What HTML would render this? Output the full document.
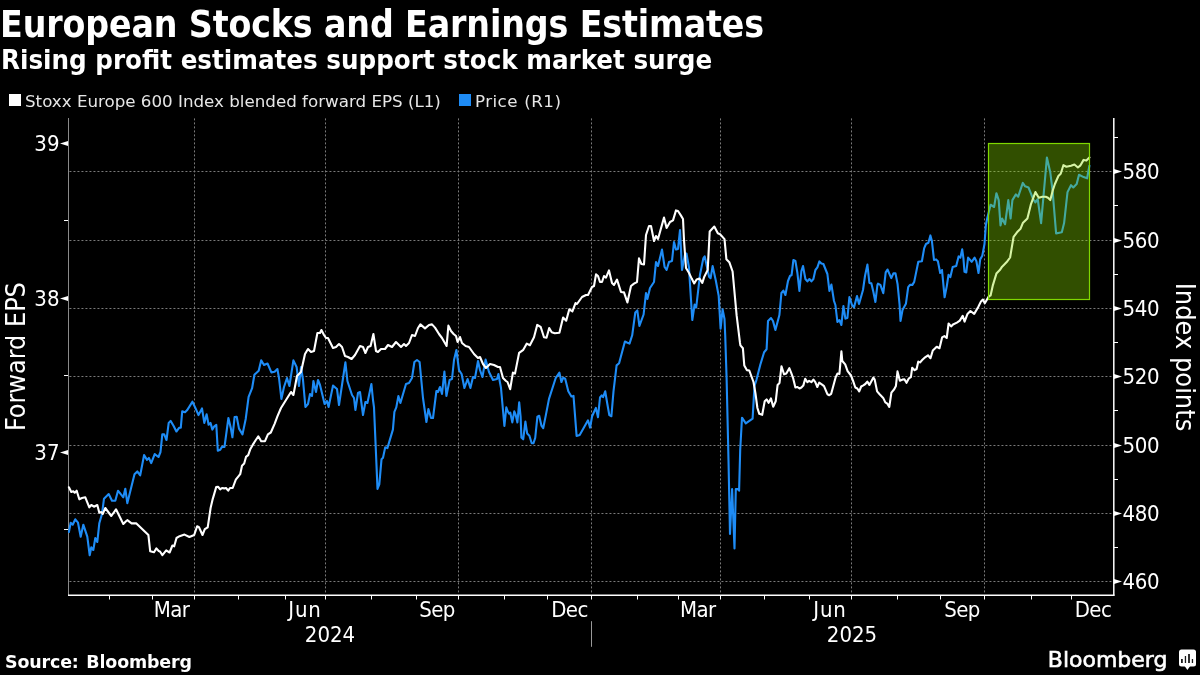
<!DOCTYPE html>
<html><head><meta charset="utf-8"><title>European Stocks and Earnings Estimates</title>
<style>
html,body{margin:0;padding:0;background:#000;width:1200px;height:675px;overflow:hidden}
svg{display:block;will-change:transform}
.t{font-family:"DejaVu Sans Condensed","DejaVu Sans",sans-serif;font-weight:bold;fill:#fff}
.r{font-family:"DejaVu Sans Condensed","DejaVu Sans",sans-serif;fill:#fff}
.lg{font-family:"DejaVu Sans","Liberation Sans",sans-serif;fill:#e6e6e6}
</style></head>
<body>
<svg width="1200" height="675" viewBox="0 0 1200 675">
<rect width="1200" height="675" fill="#000"/>
<!-- titles -->
<text class="t" x="0" y="37" font-size="37" letter-spacing="-0.12">European Stocks and Earnings Estimates</text>
<text class="t" x="1" y="68.6" font-size="27.4">Rising profit estimates support stock market surge</text>
<!-- legend -->
<rect x="9" y="94" width="12" height="12" fill="#fff"/>
<text class="lg" x="25" y="106.8" font-size="16.7">Stoxx Europe 600 Index blended forward EPS (L1)</text>
<rect x="459" y="94" width="12" height="12" fill="#1e8cf6"/>
<text class="lg" x="475" y="106.8" font-size="16.7" letter-spacing="0.45" word-spacing="0.6">Price (R1)</text>

<!-- gridlines horizontal -->
<g stroke="#7a7a7a" stroke-width="1" stroke-dasharray="2 2">
<line x1="69.45" y1="171.5" x2="1113" y2="171.5"/>
<line x1="69.45" y1="240.5" x2="1113" y2="240.5"/>
<line x1="69.45" y1="308.5" x2="1113" y2="308.5"/>
<line x1="69.45" y1="376.5" x2="1113" y2="376.5"/>
<line x1="69.45" y1="445.5" x2="1113" y2="445.5"/>
<line x1="69.45" y1="513.5" x2="1113" y2="513.5"/>
<line x1="69.45" y1="581.5" x2="1113" y2="581.5"/>
</g>
<g stroke="#7a7a7a" stroke-width="1" stroke-dasharray="2 2">
<line x1="194.5" y1="118.4" x2="194.5" y2="594"/>
<line x1="325.5" y1="118.4" x2="325.5" y2="594"/>
<line x1="458.5" y1="118.4" x2="458.5" y2="594"/>
<line x1="591.5" y1="118.4" x2="591.5" y2="594"/>
<line x1="720.5" y1="118.4" x2="720.5" y2="594"/>
<line x1="851.5" y1="118.4" x2="851.5" y2="594"/>
<line x1="984.5" y1="118.4" x2="984.5" y2="594"/>
</g>

<!-- axes -->
<line x1="68.5" y1="118" x2="68.5" y2="595" stroke="#8a8a8a" stroke-width="1"/>
<line x1="68" y1="595.3" x2="1114.5" y2="595.3" stroke="#fff" stroke-width="1.5"/>
<line x1="1113.8" y1="118" x2="1113.8" y2="595.7" stroke="#fff" stroke-width="1.5"/>

<!-- DATA -->
<g id="data" fill="none" stroke-linejoin="round" stroke-linecap="round">
<polyline points="68.9,532 70.7,522.7 72.7,524.7 75.3,519.3 78,522.7 80.7,536.7 83.3,524.7 87.3,536.7 89.7,555.3 91.3,547.3 93.3,550 95.3,538 97.3,542 99.3,523.3 102,514 104,498.7 108.7,494 112,500.7 115.3,500.7 118,490.7 123.3,497.3 125.3,488.7 127.3,503.2 134.5,474.3 137.3,471.4 140.2,475.3 144.1,455 147,459.9 148.9,457.9 151.2,463.1 154.7,454.1 158.5,457 160.5,452 162.3,434.4 164.2,434.4 166.5,440 168.7,422.9 170.6,420.9 173.5,425.7 176.4,431.5 179.3,427.7 180.8,427.7 182.2,411.3 185,412.3 187,410.3 188.9,407.4 192.4,401.7 195.6,408.4 198.5,415.1 202,408.4 204.3,422.9 206.6,414.2 208.6,424.8 210.5,422.9 212.4,429.6 214.3,426.3 216.3,424.8 217.8,450.8 220.1,449.8 222,446.9 224.5,446.9 228.4,418 230.9,428.6 232.4,437.3 234.6,417.1 236.7,416.7 239,428.6 242.5,434.4 245.7,419 248.6,396.8 252.1,388.2 254.4,374.7 258.7,370.8 261.2,360.2 264,365 267.5,363.5 271.4,372.4 274.6,371.8 277.4,369 279,378 281.4,399 284,387 287,378 289.4,386 293.4,360.4 296.6,367 299,386 301,367 303,380 305.4,407 308,404 310,394 312,396 313.4,381 316,392 318,380 320,385 324.6,404 327,401 328.6,407 333,385.6 337,389 339,405 342,385 345.4,362.4 347.4,381 352,395 354,398 355.4,410 358,393 360,392 363,415 365.4,402 367.4,403 371.4,384 373,400 374,407.4 375.6,444.4 377.5,488.9 379.3,484.4 381.5,459.3 383,457.8 385.2,447.4 387.4,448.1 391.1,435.6 392.9,429.6 394.4,411.9 396.3,407.4 398.4,396 400.4,403 406,384 409,383 412,378 414.4,362 417,360 419.6,362 423,398 426.4,422 428.4,409 431,418 433,418 436.4,391 438,392 440,387 442,394 444.4,371.6 446.4,396 449.6,380 452,379 454,360 456.4,350 459,370 461.6,374 464.4,388 467.6,379 470.4,388 473,377 475,378 478,361 480,370 482.4,377 485.6,359.6 489,372 493,380 497,379 498.4,374 501,388 504.4,426 506.3,407.3 507.7,411.3 509,413.6 510.3,412.7 512.3,422.4 514.3,411.3 515.7,414.9 517.4,422.4 519.2,402.4 520.6,416.7 521.4,437.6 523.2,439.3 525.4,421.6 527.2,433.6 529.4,435.8 531.7,443.3 533.4,443.3 535.2,438 537.4,416.7 539.2,415.8 541.4,425.6 543.2,428.2 545.9,414.9 549,398.9 555.8,377.8 559.4,372.6 561.4,382 563.1,377.8 565.2,378.8 568.3,391.3 571.4,396.5 573.5,395.9 576.6,435.9 579.7,434.9 588,420.3 590.1,427.6 592.1,416.2 595.9,407.9 598,417.2 600,397.5 601.7,395.4 603.1,397.1 605.2,391.3 607.3,403.7 609.3,415.1 611.4,416.2 613.5,391.3 616.6,365.4 619.1,363.3 624.9,341.5 627,342.5 629.5,343.6 632.2,335.3 635.3,312.4 637.3,310.4 639.4,325.9 643.6,314.5 646,293 647.4,299 650,288 654,282 656,262 658,266 662,249.6 664.6,267 666.6,270 669,262 672,261 674,242 676,249.6 678,249 680,230 682,270 685,254 686.5,253.5 688.9,267 692.3,320 694.6,304.6 696.2,307.5 700,274.7 703.3,258.4 704.7,256.4 707.2,268 709.1,276.7 710.6,278.2 712.6,266.1 715.8,280.5 718.7,295.9 720.6,328.7 722.6,309.4 724.5,319 725.2,335 726.6,378 728.5,460 730,533.9 732.1,489.1 734.5,548.5 735.8,489.1 737.8,489.1 739.1,490.7 740.2,450 742,417.7 745.8,423.4 752.6,418.6 754.5,385.9 756.4,380.1 760.3,364.7 764.1,352.2 766.6,349.3 768,321 771,318 773,321 775.4,330 779.4,315 781.4,293 783.4,290.6 785.4,295 788,281 790,276 791.6,275 793.4,260 795.4,261 797.4,273 799.4,291 801.4,271 803,266 805.4,279 807.4,281.4 809.4,279 811.4,281.4 813.4,279 815.4,270 817.4,267.4 819.4,261.4 821.4,263.4 823.4,264 827.4,274 829.4,291 831.4,284.6 834,301 835.4,305 837.4,322 839.4,320 841.4,325 843.4,306 845.4,318.6 847.4,318 849.4,297 852,305 854,307.4 857,296 859,304 863,290 865,276 867.4,264.6 869.4,283 871.4,283.4 873.4,292 875.4,302 877.4,285 878,283.7 880.4,284.9 883.3,293.2 885.7,272.4 887.5,269.5 889.3,273.6 891.3,278.1 893.4,273.4 895.5,273.4 897.6,284.3 899.6,305 900.5,321 902.5,310 905.9,303.8 908.2,287.2 910,284.9 912.4,284.9 914.2,281.9 918.3,261.8 921.9,261.2 924.2,248.1 926,244 928.4,242.8 930.4,235.4 931.9,241 934,260 936.1,259.4 937.9,261.2 940.2,273 942,270 944.6,297.3 946.8,286.1 948.5,274.8 950.3,277.2 952.7,267.1 956.2,265.9 958.6,256.4 960.4,257.6 962.2,249.3 963.4,258.2 964.5,271.8 966.3,272.4 968.1,257.6 971.7,261.8 974.6,257.6 976.4,261.2 978.5,273 980.2,259.4 982.3,255.8 984.5,244 985.9,225 987.2,218.5 990.6,204.7 994.1,207 996.4,193.2 998.7,200.1 1000.5,225.4 1002.1,218.5 1005.1,224.2 1008.3,200.1 1010.6,218.5 1012.4,200.1 1015.9,194.4 1018.2,196.7 1022.8,182.9 1025.1,186.3 1028.5,187.5 1030.8,193.2 1033.1,199 1035.4,202.4 1037.7,199 1041.1,223.1 1046.9,157.6 1050.3,172.6 1052.6,190.9 1056.1,233.4 1059.5,232.7 1061.8,232.3 1064.1,223.1 1067.5,192.1 1071,185.2 1073.3,187.5 1076.7,184 1079,174.8 1083.6,177.1 1087.1,178.3 1089.4,165.7" stroke="#1e8cf6" stroke-width="2.1"/>
<polyline points="68.9,487.3 71.3,492 73.3,491.3 74.7,492.7 76.7,490.7 79.3,499.3 82,498 85.3,497.3 89.3,507.3 91.3,505 94,506.7 97.3,505 99.3,512.7 101.3,512 102.7,514 105.3,508 111.3,516 116,509.3 123.3,524 126,521.3 127.3,520.2 131.6,523.4 136.4,523.4 148.4,535.1 150.2,551.3 154,552.2 156.4,548.4 158.7,551 160,551.5 162.4,555.1 166.2,550.4 169.6,552.5 172.4,545.5 174.2,546.3 176.5,538 179.6,536.2 184.5,534.6 189.4,537 194.2,535 197.1,526.3 199,527.3 202.5,535 204.8,529.2 207.7,527.3 210.6,508 212.7,499.1 216.2,487.1 218,486.7 220.2,489.3 222,488 224.2,488.4 226,488 228.2,490.7 230,488 232.7,488 235.8,479.6 240.2,474.2 242,465.8 244.2,463.6 246,456.9 248.2,455.1 250.4,448.9 252.7,444.9 255.8,440 258.3,436.3 261.2,441.2 265,441.2 267.9,434.4 270.8,432.5 274.6,423.8 277.5,416.1 281,408 286,400 291,392 293.4,395 297,376 301,372 305,354 308,349 311,352 314,351 317.4,333 320,333 321.4,330 324,335 326,338 328,338 333,348 336,347 339,344 342,347 345,356 348,357 351.6,359 355,355 360,346 363,347 365.4,353 368,347 370.6,346 373.4,334 376,351 378,352 381,349 385,349 388,345 392,347 396,342 401,347 404,344 406,346 409,343 412,335 415,336 418,328 420.4,324.4 425,328.4 429,325 432,324.4 435,327.6 439,334 442,338 446.6,346 448.4,325.6 451,331 453.6,334 456,336 457.6,342 460,337 462,343 465.6,346 469,347 474,354 478,358 480,357 483,364 486,368 490,364 494,365 498,367 500,367 503,378 506,381 507.5,382 510.2,389.2 512.9,372.6 515,373.6 519.1,352.9 523.3,349.8 526.8,343.6 529.9,345.2 534,337.3 537.2,324.9 540.7,327 544,337.3 546.5,337.8 549.2,328 551.7,332.2 554.8,333.2 559.4,332.8 563.1,317.6 566.2,320.7 569.3,309.3 572.4,311.4 575.5,303.1 577,304 582,297 586,295 588,295 592,287 594,286 596,274.4 598,276 600,282 602,282 604,276 606,277.6 609,270.4 612,283 614,285 617,279.6 621,292 624,292.4 627.4,302.4 631,286 634,283.6 637,282 639,258.4 641.4,264 644,264.4 646,235 649,226 651,226 654,241 656,236 658,239 664,217.6 666.6,228 670,222 673,220.4 676,210.4 678,211 681,215.6 683,219 684,240 686,268 688.9,272.8 691.7,278.6 694.2,283.4 696.6,279.5 699.5,278.6 702.3,282.8 704.3,276.7 707.7,269.9 709.7,231.4 714.3,226.6 717.8,233.3 720.1,234.3 724.5,239.1 726.4,259.3 729.3,262.2 732.6,271.5 736.6,315.2 739.9,342.2 740.4,345.4 742.9,348.3 744.3,365.6 746.8,370.1 749.3,370.5 753.5,382 755.5,393.6 757.4,408 759.3,413.8 762.2,414.8 764.7,401.3 766.6,399.4 768.6,402.8 770.9,398.4 773.2,406.7 775.7,401.3 777.6,384.9 779.5,383 781.5,366.2 784,374.3 786.3,373.4 789.3,368.2 791.3,373.1 793.2,378.4 795.4,387.5 797.5,387 799.5,388.5 801.4,387.5 803.3,385.6 805.2,378.8 807.4,382.2 809.1,380.8 811.5,382.2 813.4,379.5 815.3,382.2 817.3,387 819.2,382.7 822.1,384.6 824,386.1 827.4,394.2 829.3,395.2 831.2,393.8 835.6,377.4 837.5,373.5 839.4,374 841.4,351.4 842.3,361 845.2,364.4 847.6,371.1 851,375.5 852.9,380.3 855.3,387.5 857.3,388.5 859.2,391.4 861.2,386.5 863.3,385.3 865.3,384 867.3,381.6 869.4,384.9 871,382 873.4,377.5 874.7,379.6 877.1,391.4 879.6,394.2 883.2,397.9 885.3,402.4 887.3,403.6 889.3,406.9 891.4,392.6 894.2,389.3 895.9,386.1 897.5,371.4 899.9,380.8 902.4,379.6 904.4,379.2 906.5,382.8 908.9,378.3 910.9,377.1 912.2,367.7 914.6,370.2 916.6,369 918.3,361.6 920,362.4 922.2,360.1 925.1,357.3 928,355.3 930.5,358.2 932.8,350.5 936.7,346.7 939.5,348.2 942.1,337.4 944.4,336.1 946.7,338 948.6,323.5 951.1,326.4 953,324.5 956.9,322.6 959.8,320.6 962.7,315.8 964.6,321.6 967.5,313.9 970.4,311 974.2,313.9 978.1,307.2 981,301.4 982.9,299.5 984.8,303.3 988.7,296.6 990.6,295.4 992.9,285.1 996.4,273.6 999.8,270.1 1002.1,266.7 1006.7,262.1 1010.1,257.5 1013.6,236.8 1017,232.3 1020.5,228.8 1022.8,223.1 1027.4,218.5 1030.8,204.7 1035.4,192.1 1038.8,197.8 1042.3,196.7 1045.7,196.7 1048,197.8 1050.3,200.1 1052.6,190.9 1054.9,184 1058.4,176 1060.7,173.7 1063.4,165.2 1066.4,166.8 1071,165.7 1074.4,164.5 1077.9,167.5 1080.2,165.7 1083.6,159.9 1086.4,160.6 1089.4,157.6" stroke="#fff" stroke-width="2.1"/>
</g>

<!-- highlight box -->
<rect x="988.5" y="143.5" width="101" height="156" fill="rgba(139,224,0,0.353)" stroke="#7fd800" stroke-width="1.2"/>

<!-- left axis ticks & labels -->
<g fill="#fff">
<path d="M60 143.5 L68 141 L68 146 Z"/>
<path d="M60 298.5 L68 296 L68 301 Z"/>
<path d="M60 452.5 L68 450 L68 455 Z"/>
</g>
<g stroke="#fff" stroke-width="1">
<line x1="64" y1="220.5" x2="68" y2="220.5"/>
<line x1="64" y1="375.5" x2="68" y2="375.5"/>
<line x1="64" y1="529.5" x2="68" y2="529.5"/>
</g>
<g class="r" font-size="22" text-anchor="end" transform="translate(1 0)">
<text x="58.5" y="150.8">39</text>
<text x="58.5" y="305.8">38</text>
<text x="58.5" y="459.8">37</text>
</g>

<!-- right axis ticks & labels -->
<g fill="#fff">
<path d="M1122 171.5 L1114 169 L1114 174 Z"/>
<path d="M1122 240.5 L1114 238 L1114 243 Z"/>
<path d="M1122 308.5 L1114 306 L1114 311 Z"/>
<path d="M1122 376.5 L1114 374 L1114 379 Z"/>
<path d="M1122 445.5 L1114 443 L1114 448 Z"/>
<path d="M1122 513.5 L1114 511 L1114 516 Z"/>
<path d="M1122 581.5 L1114 579 L1114 584 Z"/>
</g>
<g stroke="#fff" stroke-width="1">
<line x1="1114" y1="137.5" x2="1118" y2="137.5"/>
<line x1="1114" y1="205.5" x2="1118" y2="205.5"/>
<line x1="1114" y1="274.5" x2="1118" y2="274.5"/>
<line x1="1114" y1="342.5" x2="1118" y2="342.5"/>
<line x1="1114" y1="410.5" x2="1118" y2="410.5"/>
<line x1="1114" y1="479.5" x2="1118" y2="479.5"/>
<line x1="1114" y1="547.5" x2="1118" y2="547.5"/>
</g>
<g class="r" font-size="22" letter-spacing="-0.4" transform="translate(-1 0)">
<text x="1123.5" y="179">580</text>
<text x="1123.5" y="248">560</text>
<text x="1123.5" y="316">540</text>
<text x="1123.5" y="384">520</text>
<text x="1123.5" y="453">500</text>
<text x="1123.5" y="521">480</text>
<text x="1123.5" y="589">460</text>
</g>

<!-- axis titles -->
<text class="r" font-size="26.7" text-anchor="middle" transform="translate(25 356.6) rotate(-90)">Forward EPS</text>
<text class="r" font-size="26.9" text-anchor="middle" transform="translate(1176 357) rotate(90)">Index points</text>

<!-- x axis ticks -->
<g stroke="#fff" stroke-width="1">
<line x1="109.5" y1="595" x2="109.5" y2="599.5"/>
<line x1="152.5" y1="595" x2="152.5" y2="599.5"/>
<line x1="194.5" y1="595" x2="194.5" y2="599.5"/>
<line x1="238.5" y1="595" x2="238.5" y2="599.5"/>
<line x1="285.5" y1="595" x2="285.5" y2="599.5"/>
<line x1="325.5" y1="595" x2="325.5" y2="599.5"/>
<line x1="371.5" y1="595" x2="371.5" y2="599.5"/>
<line x1="416.5" y1="595" x2="416.5" y2="599.5"/>
<line x1="458.5" y1="595" x2="458.5" y2="599.5"/>
<line x1="504.5" y1="595" x2="504.5" y2="599.5"/>
<line x1="547.5" y1="595" x2="547.5" y2="599.5"/>
<line x1="591.5" y1="595" x2="591.5" y2="599.5"/>
<line x1="637.5" y1="595" x2="637.5" y2="599.5"/>
<line x1="678.5" y1="595" x2="678.5" y2="599.5"/>
<line x1="720.5" y1="595" x2="720.5" y2="599.5"/>
<line x1="764.5" y1="595" x2="764.5" y2="599.5"/>
<line x1="809.5" y1="595" x2="809.5" y2="599.5"/>
<line x1="851.5" y1="595" x2="851.5" y2="599.5"/>
<line x1="897.5" y1="595" x2="897.5" y2="599.5"/>
<line x1="940.5" y1="595" x2="940.5" y2="599.5"/>
<line x1="984.5" y1="595" x2="984.5" y2="599.5"/>
<line x1="1031.5" y1="595" x2="1031.5" y2="599.5"/>
<line x1="1071.5" y1="595" x2="1071.5" y2="599.5"/>
</g>
<line x1="591.5" y1="621.2" x2="591.5" y2="646.8" stroke="#999" stroke-width="1"/>
<g class="r" font-size="22" text-anchor="middle">
<g letter-spacing="-0.55">
<text x="171.6" y="617">Mar</text>
<text x="305" y="617" letter-spacing="0.8">Jun</text>
<text x="437" y="617">Sep</text>
<text x="569.5" y="617">Dec</text>
<text x="697.8" y="617">Mar</text>
<text x="830" y="617" letter-spacing="0.8">Jun</text>
<text x="962" y="617">Sep</text>
<text x="1093" y="617">Dec</text>
</g>
<text x="330" y="641.7">2024</text>
<text x="852" y="641.7">2025</text>
</g>

<!-- footer -->
<text x="5" y="667.5" font-family="'DejaVu Sans',sans-serif" font-weight="bold" font-size="17.45" letter-spacing="-0.15" word-spacing="1.8" fill="#fff">Source: Bloomberg</text>
<text x="1047.8" y="667" font-family="'DejaVu Sans',sans-serif" font-size="22" fill="#fff" stroke="#fff" stroke-width="0.6">Bloomberg</text>
<g>
<rect x="1179" y="649.5" width="17" height="17" rx="2.5" fill="#fff"/>
<path d="M1184.6 666 L1187.4 670 L1190.2 666 Z" fill="#fff"/>
<g fill="#1a1a1a">
<rect x="1181" y="659" width="1.8" height="4"/>
<rect x="1184.8" y="656" width="1.3" height="7"/>
<rect x="1188.1" y="654" width="1.8" height="9"/>
<rect x="1191.8" y="659" width="1.3" height="4"/>
</g>
</g>
</svg>
</body></html>
